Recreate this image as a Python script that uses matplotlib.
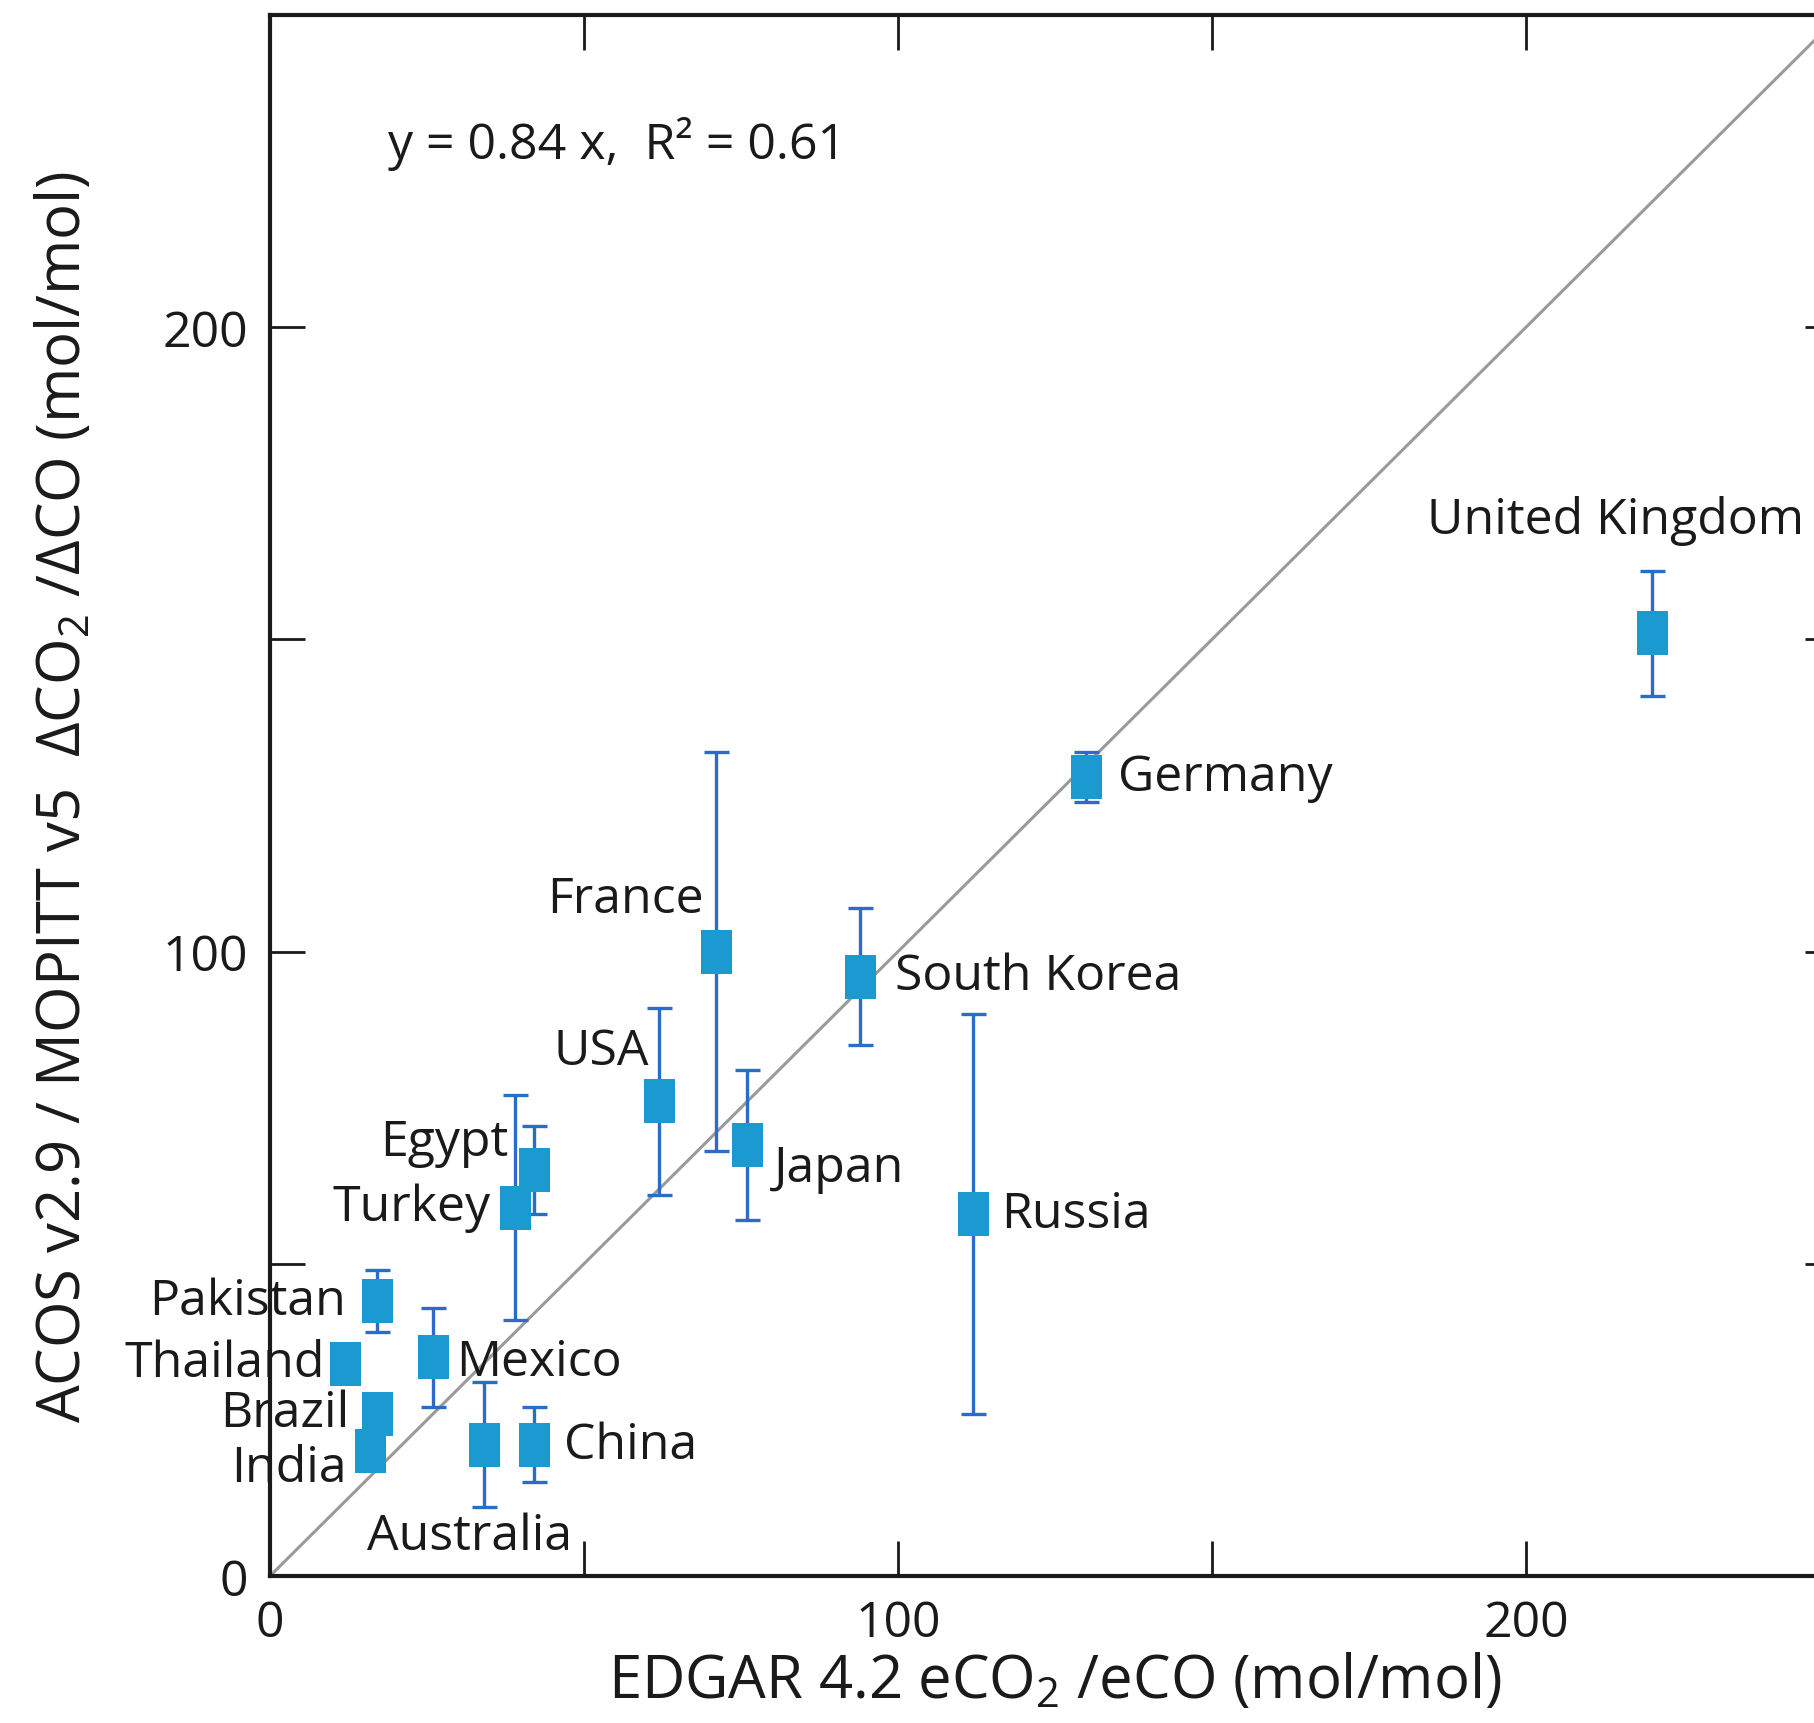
import matplotlib
matplotlib.use("Agg")
import matplotlib.pyplot as plt
import numpy as np

plt.rcParams['font.family'] = ['Open Sans', 'DejaVu Sans']
plt.rcParams['mathtext.fontset'] = 'custom'
plt.rcParams['mathtext.rm'] = 'Open Sans'
plt.rcParams['mathtext.it'] = 'Open Sans:italic'
plt.rcParams['mathtext.bf'] = 'Open Sans:bold'

# ---- data ----
countries = ["United Kingdom", "Germany", "France", "South Korea", "USA", "Japan",
             "Russia", "Egypt", "Turkey", "Pakistan", "Thailand", "Mexico",
             "Brazil", "India", "Australia", "China"]
edgar_ratio = [220, 130, 71, 94, 62, 76, 112, 42, 39, 17, 12, 26, 17, 16, 34, 42]
acos_ratio = [151, 128, 100, 96, 76, 69, 58, 65, 59, 44, 34, 35, 26, 20, 21, 21]
acos_err = [10, 4, 32, 11, 15, 12, 32, 7, 18, 5, 0, 8, 2, 2, 10, 6]

x_ticks = [0, 50, 100, 150, 200, 250]
y_ticks = [0, 50, 100, 150, 200, 250]
tick_labels = {0: "0", 100: "100", 200: "200"}
equation_text = "y = 0.84 x,  R² = 0.61"

# label layout (offset pixels, alignment)
label_layout = {
    "United Kingdom": (-225, 113, 'left'),
    "Germany": (32, 0, 'left'),
    "France": (-12, 52, 'right'),
    "South Korea": (35, 0, 'left'),
    "USA": (-10, 50, 'right'),
    "Japan": (27, -23, 'left'),
    "Russia": (28, 0, 'left'),
    "Egypt": (-25, 28, 'right'),
    "Turkey": (-24, 0, 'right'),
    "Pakistan": (-31, 0, 'right'),
    "Thailand": (-20, 0, 'right'),
    "Mexico": (23, -5, 'left'),
    "Brazil": (-27, 0, 'right'),
    "India": (-24, -17, 'right'),
    "Australia": (-14, -91, 'center'),
    "China": (30, 0, 'left'),
}

W, H = 1815, 1724
fig = plt.figure(figsize=(W / 100, H / 100), dpi=100)
ax = fig.add_axes([270 / W, 147 / H, 1570 / W, (1577 - 16) / H])
ax.set_xlim(0, 250)
ax.set_ylim(0, 250)

# 1:1 line
ax.plot([0, 250], [0, 250], color='#9a9a9a', lw=2.2, zorder=1)

marker_shape = [(-0.72, -1), (0.72, -1), (0.72, 1), (-0.72, 1), (-0.72, -1)]
ax.errorbar(edgar_ratio, acos_ratio, yerr=acos_err, fmt='none',
            ecolor='#2a6cc8', elinewidth=2.4, capsize=9, capthick=2.4, zorder=2)
ax.plot(edgar_ratio, acos_ratio, linestyle='none', marker=marker_shape,
        markersize=31, color='#1a9ad0', markeredgewidth=0, zorder=3)

for name, xv, yv in zip(countries, edgar_ratio, acos_ratio):
    dx, dy, ha = label_layout[name]
    ax.annotate(name, (xv, yv), xytext=(dx, dy), textcoords='offset pixels',
                ha=ha, va='center', fontsize=36, color='#1a1a1a', zorder=4)

ax.text(0.075, 0.918, equation_text, transform=ax.transAxes, fontsize=36,
        ha='left', va='center', color='#1a1a1a')

ax.set_xticks(x_ticks)
ax.set_yticks(y_ticks)
ax.set_xticklabels([tick_labels.get(t, "") for t in x_ticks])
ax.set_yticklabels([tick_labels.get(t, "") for t in y_ticks])
ax.tick_params(direction='in', length=25, width=2, top=True, right=True,
               labelsize=36, pad=16, colors='#1a1a1a')
for s in ax.spines.values():
    s.set_linewidth(3)
    s.set_color('#1a1a1a')

ax.set_xlabel(r"EDGAR 4.2 eCO$_2$ /eCO (mol/mol)", fontsize=43, color='#1a1a1a')
ax.set_ylabel(r"ACOS v2.9 / MOPITT v5  ΔCO$_2$ /ΔCO (mol/mol)", fontsize=43,
              color='#1a1a1a')
ax.xaxis.set_label_coords(0.5, -0.048)
ax.yaxis.set_label_coords(-0.112, 0.5)

fig.savefig("out.png", dpi=100)
